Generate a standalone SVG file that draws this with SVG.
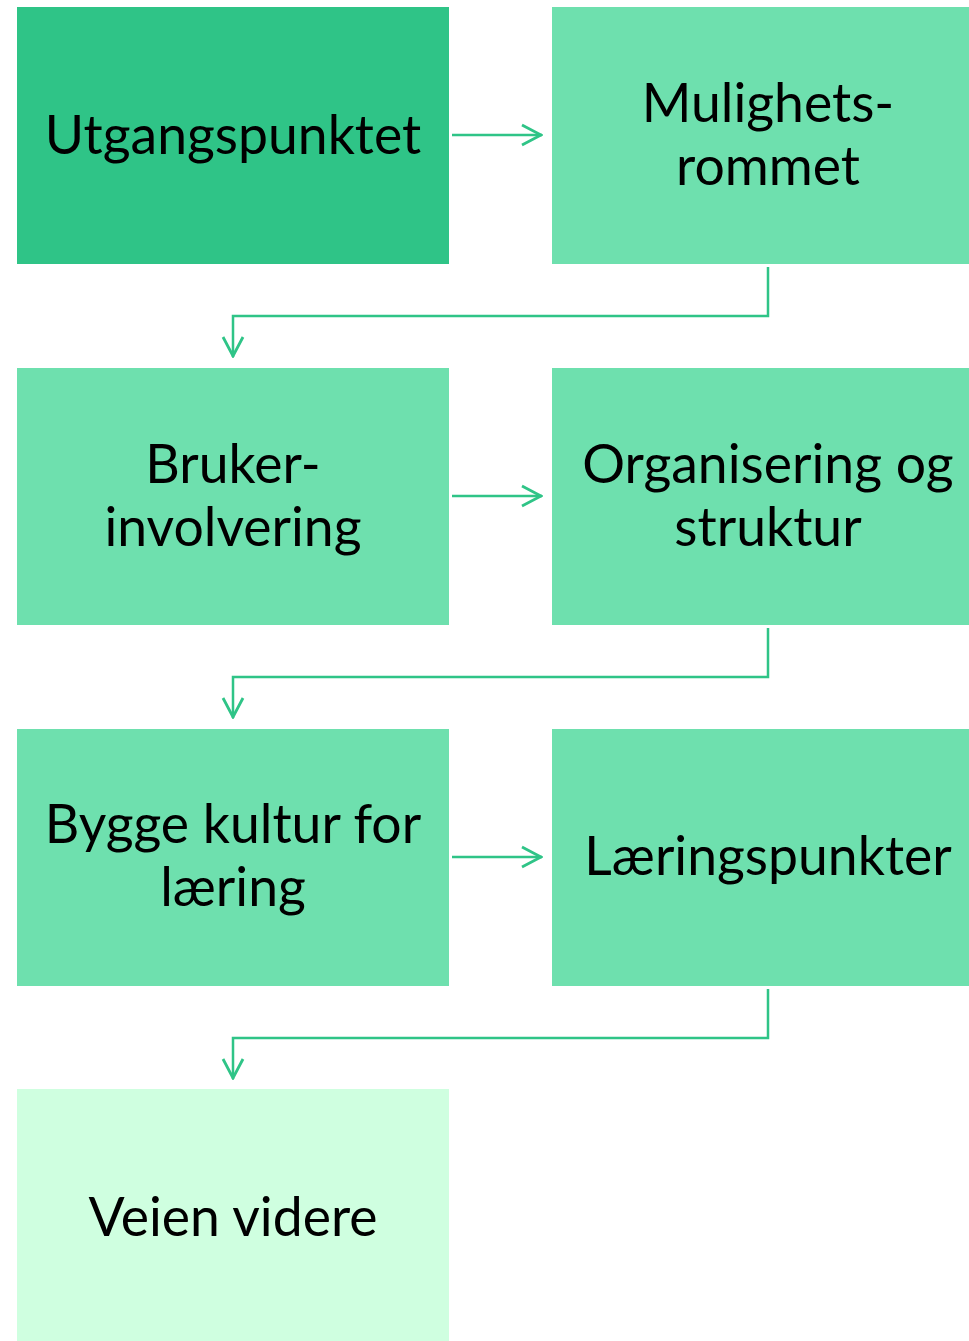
<svg xmlns="http://www.w3.org/2000/svg" width="969" height="1341" viewBox="0 0 969 1341">
<style>
.t{font-family:Lato,"Open Sans","Liberation Sans",sans-serif;font-size:53.5px;fill:#000;text-anchor:middle}
.c{fill:none;stroke:#2FC487;stroke-width:2.5}
.b1{fill:#2FC487}.b2{fill:#6EE0AE}.b3{fill:#CFFFE0}
</style>
<defs>
<marker id="ah" viewBox="0 0 22 24" refX="21" refY="12" markerWidth="22" markerHeight="24" markerUnits="userSpaceOnUse" orient="auto">
<path d="M1,2 L20,12 L1,22" fill="none" stroke="#2FC487" stroke-width="2.8"/>
</marker>
</defs>
<rect width="969" height="1341" fill="#fff"/>
<g id="n1"><rect class="b1" x="17" y="7" width="432" height="257"/><text class="t" x="233" y="154">Utgangspunktet</text></g>
<g id="n2"><rect class="b2" x="552" y="7" width="417" height="257"/><text class="t" x="768" y="122">Mulighets-</text><text class="t" x="768" y="185">rommet</text></g>
<g id="n3"><rect class="b2" x="17" y="368" width="432" height="257"/><text class="t" x="233" y="483">Bruker-</text><text class="t" x="233" y="546">involvering</text></g>
<g id="n4"><rect class="b2" x="552" y="368" width="417" height="257"/><text class="t" x="768" y="483">Organisering og</text><text class="t" x="768" y="546">struktur</text></g>
<g id="n5"><rect class="b2" x="17" y="729" width="432" height="257"/><text class="t" x="233" y="843">Bygge kultur for</text><text class="t" x="233" y="906">læring</text></g>
<g id="n6"><rect class="b2" x="552" y="729" width="417" height="257"/><text class="t" x="768" y="875">Læringspunkter</text></g>
<g id="n7"><rect class="b3" x="17" y="1089" width="432" height="252"/><text class="t" x="233" y="1236">Veien videre</text></g>
<g id="connectors">
<path class="c" d="M452,135 H542" marker-end="url(#ah)"/>
<path class="c" d="M768,267 V316 H233 V357" marker-end="url(#ah)"/>
<path class="c" d="M452,496 H542" marker-end="url(#ah)"/>
<path class="c" d="M768,628 V677 H233 V718" marker-end="url(#ah)"/>
<path class="c" d="M452,857 H542" marker-end="url(#ah)"/>
<path class="c" d="M768,989 V1038 H233 V1079" marker-end="url(#ah)"/>
</g>
</svg>
